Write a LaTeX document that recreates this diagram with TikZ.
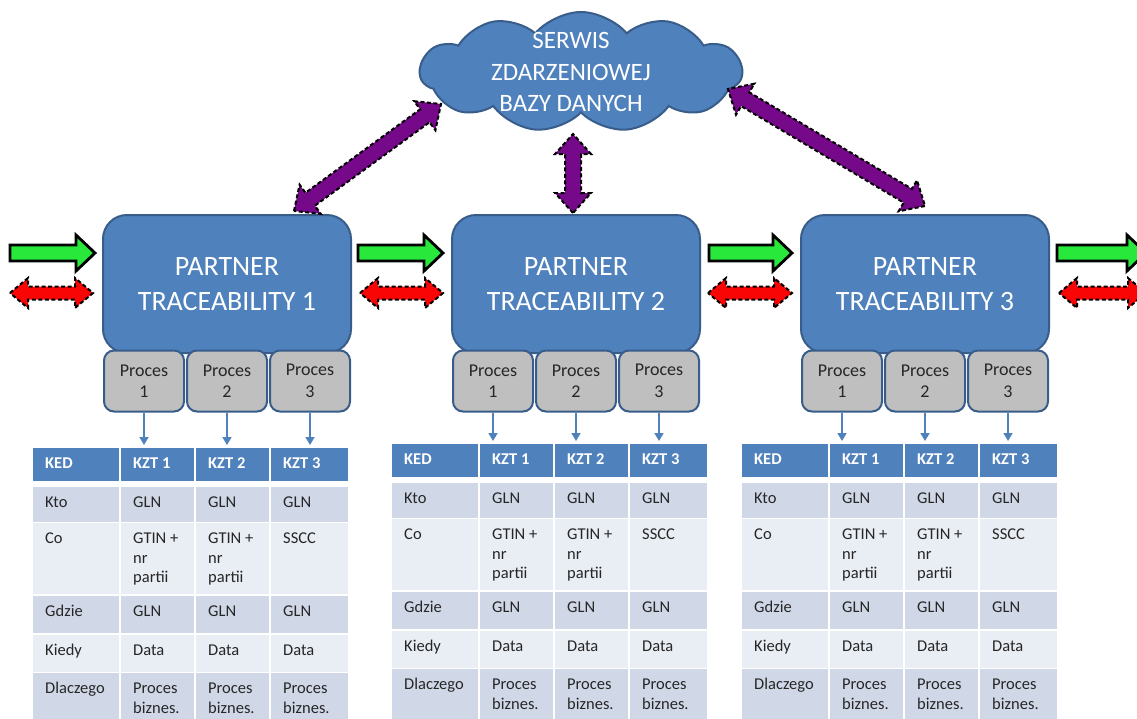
\documentclass[tikz,border=0pt]{standalone}
\usepackage{fontspec}
\setmainfont{Carlito}
\usetikzlibrary{calc,shapes.symbols,arrows.meta}

\definecolor{boxblue}{HTML}{4F81BD}
\definecolor{boxedge}{HTML}{385D8A}
\definecolor{procgray}{HTML}{BFBFBF}
\definecolor{rowdark}{HTML}{D0D8E8}
\definecolor{rowlight}{HTML}{E9EDF4}
\definecolor{flowgreen}{RGB}{40,232,60}
\definecolor{flowred}{RGB}{250,5,5}
\definecolor{linkpurple}{RGB}{118,8,138}
\definecolor{inktext}{HTML}{262626}

\tikzset{
  % block arrow with a head at both ends: #1 head length, #2 half shaft, #3 half head
  dblarrow/.style n args={3}{to path={
    -- ($(\tikztostart)!#1!(\tikztotarget)!#3!90:(\tikztotarget)$)
    -- ($(\tikztostart)!#1!(\tikztotarget)!#2!90:(\tikztotarget)$)
    -- ($(\tikztotarget)!#1!(\tikztostart)!#2!-90:(\tikztostart)$)
    -- ($(\tikztotarget)!#1!(\tikztostart)!#3!-90:(\tikztostart)$)
    -- (\tikztotarget)
    -- ($(\tikztotarget)!#1!(\tikztostart)!#3!90:(\tikztostart)$)
    -- ($(\tikztotarget)!#1!(\tikztostart)!#2!90:(\tikztostart)$)
    -- ($(\tikztostart)!#1!(\tikztotarget)!#2!-90:(\tikztotarget)$)
    -- ($(\tikztostart)!#1!(\tikztotarget)!#3!-90:(\tikztotarget)$)
    -- cycle}},
  % block arrow with a single head at the target end
  sglarrow/.style n args={3}{to path={
    -- ($(\tikztostart)!#2!90:(\tikztotarget)$)
    -- ($(\tikztotarget)!#1!(\tikztostart)!#2!-90:(\tikztostart)$)
    -- ($(\tikztotarget)!#1!(\tikztostart)!#3!-90:(\tikztostart)$)
    -- (\tikztotarget)
    -- ($(\tikztotarget)!#1!(\tikztostart)!#3!90:(\tikztostart)$)
    -- ($(\tikztotarget)!#1!(\tikztostart)!#2!90:(\tikztostart)$)
    -- ($(\tikztostart)!#2!-90:(\tikztotarget)$)
    -- cycle}},
  goodsflow/.style={sglarrow={19pt}{8pt}{18pt}, fill=flowgreen, draw=black, line width=2.8pt, line join=miter},
  dataflow/.style={dblarrow={18pt}{6.5pt}{15pt}, fill=flowred, draw=black, line width=2pt, dash pattern=on 4pt off 2.5pt},
  querylink/.style={dblarrow={20pt}{8pt}{18pt}, fill=linkpurple, draw=black, line width=2pt, dash pattern=on 4pt off 2.5pt},
  partner/.style={draw=boxedge, line width=2pt, fill=boxblue, rounded corners=24pt,
    minimum width=248pt, minimum height=138pt, inner sep=0pt, text=white,
    font=\fontsize{28}{35}\selectfont, align=center},
  procbox/.style={draw=boxedge, line width=2pt, fill=procgray, rounded corners=10pt,
    minimum width=80pt, minimum height=61pt, inner sep=0pt, text=inktext,
    font=\fontsize{18}{21.5}\selectfont, align=center},
  cellbox/.style={draw=white, line width=1.5pt, anchor=north west, inner sep=0pt, outer sep=0pt},
  celltext/.style={anchor=north west, inner sep=0pt, align=left},
  feed/.style={draw=boxblue, line width=1.6pt, -{Triangle[width=9pt,length=8pt]}, shorten >=2pt},
}

\begin{document}
\begin{tikzpicture}[x=1pt, y=-1pt]
\useasboundingbox (0,0) rectangle (1137,718);
\fill[white] (0,0) rectangle (1137,718);
\clip (0,0) rectangle (1137,718);

% central event database
\node[cloud, cloud puffs=11, cloud puff arc=100, cloud ignores aspect,
      minimum width=322pt, minimum height=120pt,
      draw=boxedge, line width=2pt, fill=boxblue] (cloud) at (581,72) {};
\node[text=white, font=\fontsize{25}{31.5}\selectfont, align=center] (cloudlabel)
      at (571,72) {SERWIS\\ZDARZENIOWEJ\\BAZY DANYCH};

% partners and their processes
\foreach \i/\cx in {1/227, 2/576, 3/925} {
  \node[partner] (p\i) at (\cx,284) {PARTNER\\TRACEABILITY \i};
  \foreach \j/\dx in {1/-83, 2/0, 3/83}
    \node[procbox] (p\i-\j) at (\cx+\dx,381) {Proces\\\j};
}

% event data tables
\foreach \t/\lx/\ty in {1/32/447, 2/391/443, 3/741/443} {
  \foreach \r/\top/\h/\cf/\ta/\tb/\tc/\td in {
      0/0/34.5/boxblue/KED/KZT 1/KZT 2/KZT 3,
      1/39/36.5/rowdark/Kto/GLN/GLN/GLN,
      2/75.5/72.5/rowlight/Co/{GTIN +\\nr\\partii}/{GTIN +\\nr\\partii}/SSCC,
      3/148/39/rowdark/Gdzie/GLN/GLN/GLN,
      4/187/38.5/rowlight/Kiedy/Data/Data/Data,
      5/225.5/64.5/rowdark/Dlaczego/{Proces\\biznes.}/{Proces\\biznes.}/{Proces\\biznes.}} {
    \ifnum\r=0 \def\tcol{white}\def\tfnt{\bfseries}\else\def\tcol{inktext}\def\tfnt{}\fi
    \foreach \c/\cx/\cw/\txt in {0/0/88/\ta, 1/88/75/\tb, 2/163/75/\tc, 3/238/79/\td} {
      \node[cellbox, fill=\cf, minimum width=\cw pt, minimum height=\h pt]
        (t\t-\r-\c) at (\lx+\cx,\ty+\top) {};
      \node[celltext, text=\tcol, font=\fontsize{16.5}{19.5}\selectfont\tfnt]
        (t\t-\r-\c-txt) at ([xshift=13pt,yshift=-7pt]t\t-\r-\c.north west)
        {\rule{0pt}{14pt}\txt};
    }
  }
}

% process outputs feeding the tables
\foreach \t in {1,2,3}
  \foreach \j in {1,2,3}
    \draw[feed] (p\t-\j.south) -- (p\t-\j.south |- t\t-0-0.north);

% physical flow and data exchange between partners
\coordinate (g0a) at (10,253);   \coordinate (g0b) at (95,253);
\coordinate (g1a) at (358,253);  \coordinate (g1b) at (443,253);
\coordinate (g2a) at (709,253);  \coordinate (g2b) at (792,253);
\coordinate (g3a) at (1057,253); \coordinate (g3b) at (1146,253);
\foreach \k in {0,1,2,3}
  \draw[goodsflow] (g\k a) to (g\k b);

\coordinate (r0a) at (10,293);   \coordinate (r0b) at (93,293);
\coordinate (r1a) at (360,293);  \coordinate (r1b) at (443,293);
\coordinate (r2a) at (708,293);  \coordinate (r2b) at (792,293);
\coordinate (r3a) at (1059,293); \coordinate (r3b) at (1146,293);
\foreach \k in {0,1,2,3}
  \draw[dataflow] (r\k a) to (r\k b);

% links between partners and the event database
\coordinate (q1a) at (294,211); \coordinate (q1b) at (441,104);
\coordinate (q2a) at (573,213); \coordinate (q2b) at (573,134);
\coordinate (q3a) at (925,206); \coordinate (q3b) at (728,89);
\foreach \k in {1,2,3}
  \draw[querylink] (q\k a) to (q\k b);
\end{tikzpicture}
\end{document}
